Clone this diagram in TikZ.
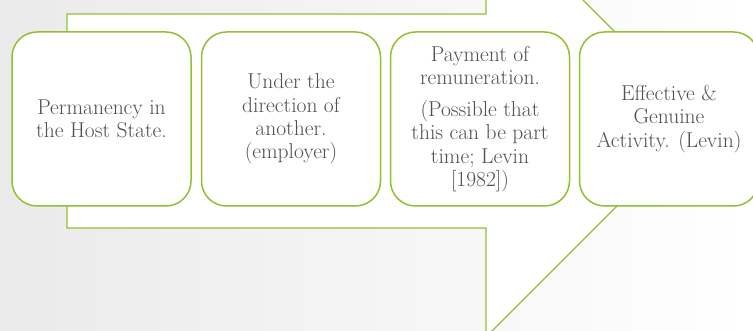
\documentclass[tikz,border=0pt]{standalone}
\usepackage{xcolor}
\usepackage{tikz}
\definecolor{leaf}{RGB}{150,190,50}
\definecolor{ink}{RGB}{80,80,80}
\definecolor{paper}{RGB}{234,234,234}

\begin{document}
\begin{tikzpicture}[x=1pt,y=-1pt,
  box/.style={shape=rectangle,rounded corners=25pt,draw=leaf,line width=1.5pt,fill=white,
    minimum width=179pt,minimum height=174pt,inner sep=0pt,align=center,text=ink,
    font=\fontsize{21.5}{23.2}\selectfont}]
\useasboundingbox (0,0) rectangle (753,331);
\shade[left color=paper,right color=white] (0,0) rectangle (753,331);
% big arrow behind the boxes
\begin{scope}
\clip (0,0) rectangle (753,331);
\draw[draw=leaf,line width=1.4pt,fill=white] (67,14) -- (486,14) -- (486,-97) -- (703,120)
  -- (486,337) -- (486,228) -- (67,228) -- cycle;
\end{scope}
\node[box] (A) at (101.5,119) {Permanency in\\the Host State.};
\node[box] (B) at (291,119) {Under the\\direction of\\another.\\(employer)};
\node[box] (C) at (480,119) {Payment of\\remuneration.\\[9pt](Possible that\\this can be part\\time; Levin\\{[}1982{]})};
\node[box] (D) at (669,119) {Effective \&\\Genuine\\Activity. (Levin)};
\end{tikzpicture}
\end{document}
